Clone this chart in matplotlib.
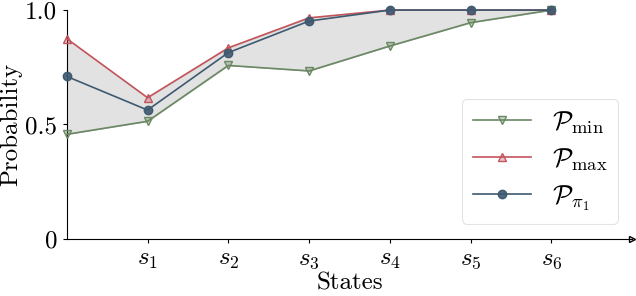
import numpy as np
import matplotlib
matplotlib.use("Agg")
import matplotlib.pyplot as plt

plt.rcParams['font.family'] = 'serif'
plt.rcParams['font.serif'] = ['cmr10']
plt.rcParams['mathtext.fontset'] = 'cm'
plt.rcParams['axes.formatter.use_mathtext'] = True

states = np.arange(7)
state_labels = [r'$s_1$', r'$s_2$', r'$s_3$', r'$s_4$', r'$s_5$', r'$s_6$']
p_min = [0.457, 0.514, 0.758, 0.734, 0.843, 0.945, 1.0]
p_max = [0.875, 0.617, 0.835, 0.966, 1.0, 1.0, 1.0]
p_pi1 = [0.710, 0.563, 0.814, 0.952, 1.0, 1.0, 1.0]
y_ticks = [0, 0.5, 1.0]
y_labels = ['0', '0.5', '1.0']

green = '#6a8862'
red = '#c4545c'
blue = '#3e5a70'

fig = plt.figure(figsize=(6.36, 2.96), dpi=100)
ax = fig.add_axes([0.105, 0.193, 0.889, 0.773])

ax.fill_between(states, p_min, p_max, color='#e2e2e2', edgecolor='#bbbbbb', lw=0.5, zorder=1)
ax.plot(states, p_min, '-v', color=green, lw=1.2, ms=6, mec=green,
        mfc=(0.42, 0.53, 0.38, 0.35), label=r'$\mathcal{P}_{\min}$', clip_on=False, zorder=3)
ax.plot(states, p_max, '-^', color=red, lw=1.2, ms=6, mec=red,
        mfc=(0.77, 0.33, 0.36, 0.35), label=r'$\mathcal{P}_{\max}$', clip_on=False, zorder=3)
ax.plot(states, p_pi1, '-o', color=blue, lw=1.2, ms=6, mec=blue,
        mfc=(0.24, 0.35, 0.44, 0.9), label=r'$\mathcal{P}_{\pi_1}$', clip_on=False, zorder=4)

ax.set_xlim(0, 7)
ax.set_ylim(0, 1.0)
ax.set_xticks(states[1:])
ax.set_xticklabels(state_labels, fontsize=18)
ax.set_yticks(y_ticks)
ax.set_yticklabels(y_labels, fontsize=18)
ax.tick_params(length=3, width=0.8, pad=4)
ax.set_xlabel('States', fontsize=18, labelpad=1)
ax.set_ylabel('Probability', fontsize=18, labelpad=2)

ax.spines['top'].set_visible(False)
ax.spines['right'].set_visible(False)
ax.plot(1, 0, '>', color='black', mfc='white', ms=4, transform=ax.transAxes, clip_on=False)

leg = ax.legend(loc='lower right', fontsize=19, frameon=True, fancybox=True,
                borderpad=0.4, borderaxespad=0, handlelength=2.2, handletextpad=0.8,
                labelspacing=0.4, bbox_to_anchor=(0.975, 0.066))
leg.get_frame().set_edgecolor('#dddddd')
leg.get_frame().set_linewidth(0.8)

fig.savefig('out.png', dpi=100)
